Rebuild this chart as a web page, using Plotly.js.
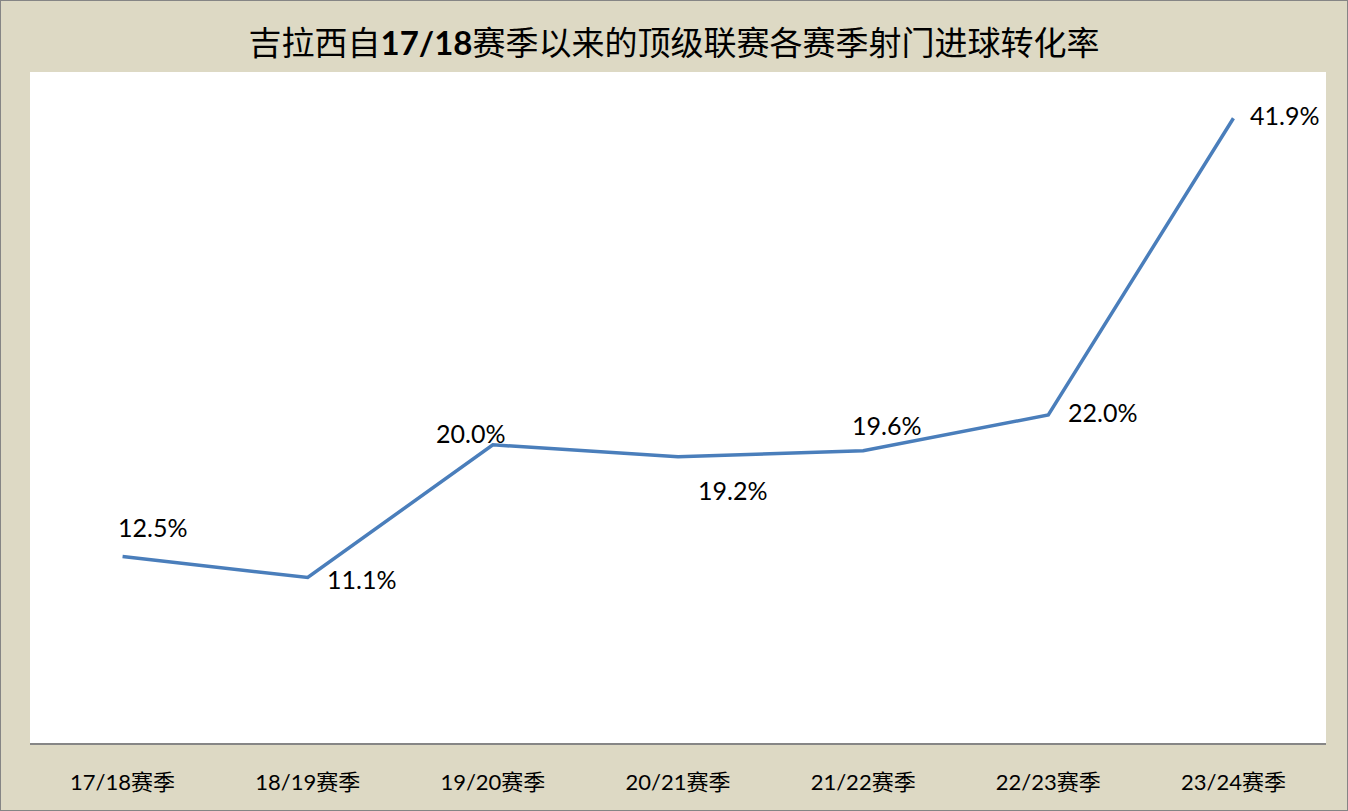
<!DOCTYPE html>
<html><head><meta charset="utf-8">
<script src="https://cdn.plot.ly/plotly-3.0.1.min.js"></script>
<style>html,body{margin:0;padding:0;background:#fff}#c{width:1346px;height:809px;border:1px solid #858585}</style>
</head><body><div id="c"></div>
<script>
const seasons = ["17/18赛季","18/19赛季","19/20赛季","20/21赛季","21/22赛季","22/23赛季","23/24赛季"];
const rates = [12.5, 11.1, 20.0, 19.2, 19.6, 22.0, 41.9];
const labelText = ["12.5%","11.1%","20.0%","19.2%","19.6%","22.0%","41.9%"];
// label offsets (px) relative to each point
const labelDx = [30, 54, -22, 54, 23, 54, 51];
const labelDy = [30, -2, 12, -33, 26, 3, 3];

const annotations = seasons.map((s,i)=>({
  x: s, y: rates[i], xref:'x', yref:'y', text: labelText[i], showarrow:false,
  xshift: labelDx[i], yshift: labelDy[i],
  font:{family:'Lato, "Noto Sans", sans-serif', size:25, color:'#000'}
}));

const trace = {x: seasons, y: rates, type:'scatter', mode:'lines',
  line:{color:'#4A7EBB', width:3.5}, hoverinfo:'none'};

const layout = {
  width:1346, height:809,
  paper_bgcolor:'#DDD9C4', plot_bgcolor:'#FFFFFF',
  margin:{l:29, r:21, t:71, b:67},
  title:{text:'吉拉西自<b>17/18</b>赛季以来的顶级联赛各赛季射门进球转化率',
    font:{family:'Lato, "Noto Sans CJK SC", sans-serif', size:33, color:'#000'},
    x:0.5, xanchor:'center', y:0.948, yanchor:'middle'},
  xaxis:{type:'category', range:[-0.5,6.5], showline:true, linecolor:'#868686', linewidth:1.5,
    showgrid:false, zeroline:false, ticks:'', ticklabelstandoff:19,
    tickfont:{family:'Lato, "Noto Sans CJK SC", sans-serif', size:22, color:'#000'}},
  yaxis:{range:[0,45], visible:false, showgrid:false, zeroline:false},
  annotations: annotations,
  showlegend:false
};
Plotly.newPlot('c',[trace],layout,{displayModeBar:false, staticPlot:true});
</script></body></html>
